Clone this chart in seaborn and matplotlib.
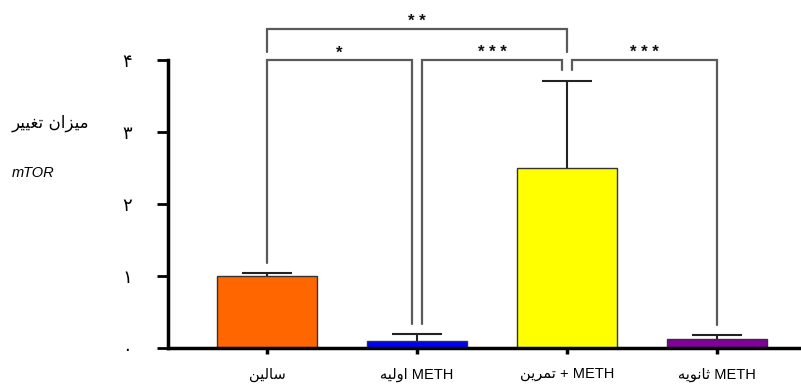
import matplotlib
matplotlib.use("Agg")

import matplotlib.pyplot as plt
import seaborn as sns
import pandas as pd

# ── Data ────────────────────────────────────────────────────────────────────
# Persian labels are written with pre-shaped presentation forms in visual
# (left-to-right) order, because matplotlib does no Arabic shaping.
groups   = ["ﻦﻴﻟﺎﺳ",            # سالین
            "ﻪﻴﻟﻭﺍ METH",       # METH اولیه
            "ﻦﻳﺮﻤﺗ + METH",     # METH + تمرین
            "ﻪﻳﻮﻧﺎﺛ METH"]      # METH ثانویه
means    = [1.00, 0.10, 2.50, 0.12]
errors   = [0.04, 0.09, 1.21, 0.06]
colors   = ["#FF6600", "#0000FF", "#FFFF00", "#800099"]
yticks   = [0, 1, 2, 3, 4]
ytlabels = ["۰", "۱", "۲", "۳", "۴"]
ylabel_fa = "ﺮﻴﻴﻐﺗ ﻥﺍﺰﻴﻣ"        # میزان تغییر
ylabel_en = "mTOR"

# significance brackets: (left group, right group, label, top, left foot, right foot)
brackets = [
    (0, 1, "*",     4.00, 1.18, 0.33),
    (1, 2, "* * *", 4.00, 0.33, 3.86),
    (2, 3, "* * *", 4.00, 3.86, 0.32),
    (0, 2, "* *",   4.43, 4.11, 4.11),
]

# ── Style ───────────────────────────────────────────────────────────────────
sns.set_style("white")
plt.rcParams["font.family"] = ["Liberation Sans", "DejaVu Sans"]
plt.rcParams["text.color"] = "black"
plt.rcParams["xtick.color"] = "black"
plt.rcParams["ytick.color"] = "black"

LINE = "#5a5a5a"

fig = plt.figure(figsize=(8.01, 3.85), dpi=100)
ax = fig.add_axes([168 / 801, 1 - 348 / 385, 1 - 168 / 801, (348 - 60) / 385])

df = pd.DataFrame({"group": groups, "mean": means})
sns.barplot(data=df, x="group", y="mean", hue="group", palette=colors,
            saturation=1, errorbar=None, width=0.67, edgecolor="#333333",
            linewidth=1, legend=False, ax=ax, zorder=2)

# upper error bars only
_, caps, _ = ax.errorbar(range(len(groups)), means,
                         yerr=[[0] * len(groups), errors],
                         fmt="none", ecolor="#222222", elinewidth=1.5,
                         capsize=18, capthick=1.5, zorder=1)
caps[0].set_visible(False)

# ── Brackets ────────────────────────────────────────────────────────────────
gap = 0.035
for i, (a, b, lab, top, foot_l, foot_r) in enumerate(brackets):
    xa = a + (gap if a in (1, 2) and i < 3 else 0)
    xb = b - (gap if b in (1, 2) and i < 3 else 0)
    ax.plot([xa, xa, xb, xb], [foot_l, top, top, foot_r], color=LINE,
            lw=1.6, clip_on=False, solid_joinstyle="miter")
    ax.text((xa + xb) / 2, top + 0.1, lab, ha="center", va="center",
            fontsize=12, fontweight="bold", color="#111111", clip_on=False)

# ── Axes ────────────────────────────────────────────────────────────────────
ax.set_xlim(-0.66, 3.56)
ax.set_ylim(0, 4)
ax.set_yticks(yticks)
ax.set_yticklabels(ytlabels, fontsize=13, family=["DejaVu Sans"])
ax.set_xlabel("")
ax.set_ylabel("")
ax.tick_params(axis="y", left=True, length=8, width=2, pad=18)
ax.tick_params(axis="x", bottom=True, length=4, width=2.5, pad=10,
               labelsize=10.5)
ax.spines[["top", "right"]].set_visible(False)
for s in ("left", "bottom"):
    ax.spines[s].set_linewidth(2.5)
    ax.spines[s].set_color("black")

fig.text(12 / 801, 1 - 123 / 385, ylabel_fa, fontsize=12, va="center",
         ha="left", family=["DejaVu Sans"])
fig.text(12 / 801, 1 - 173 / 385, ylabel_en, fontsize=10.5, va="center",
         ha="left", style="italic")

fig.savefig("out.png", dpi=100, facecolor="white")
